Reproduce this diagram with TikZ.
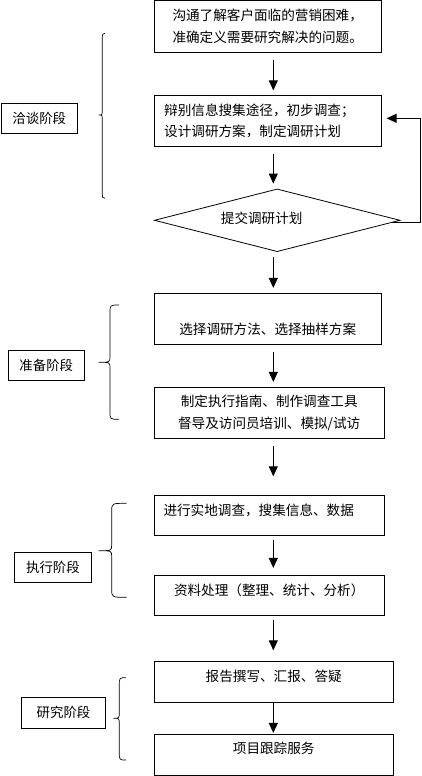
\documentclass[tikz,border=0pt]{standalone}
\usepackage{fontspec}
\setmainfont{Noto Sans CJK SC}
\usetikzlibrary{arrows.meta,shapes.geometric}
\newcommand{\vlift}[2]{\raisebox{#1}[\height][\depth]{#2}}
\newcommand{\phasebrace}[6]{\draw[bracestyle] (#1,#4) .. controls (#2,#4) .. (#2,{#4+8}) -- (#2,{#5-6}) .. controls (#2,#5) .. (#3,#5) .. controls (#2,#5) .. (#2,{#5+6}) -- (#2,{#6-8}) .. controls (#2,#6) .. (#1,#6);}
\begin{document}
\begin{tikzpicture}[x=1pt,y=-1pt,line width=0.8pt,
  box/.style={draw,rectangle,inner sep=0pt,align=center,font=\fontsize{13.6}{21.5}\selectfont},
  decision/.style={draw,diamond,aspect=3.9,inner sep=0pt,font=\fontsize{13.6}{21.5}\selectfont},
  lbl/.style={draw,rectangle,inner sep=0pt,minimum height=30pt,font=\fontsize{13.4}{16}\selectfont},
  arr/.style={-{Triangle[width=9pt,length=10pt]},line width=0.9pt},
  bracestyle/.style={line width=0.7pt}]
\useasboundingbox (0,0) rectangle (421,776);

% main flow
\node[box,minimum width=227pt,minimum height=51.5pt] (b1) at (267.7,26.5) {沟通了解客户面临的营销困难，\\准确定义需要研究解决的问题。};
\node[box,align=left,text width=207pt,inner xsep=10pt,minimum width=227pt,minimum height=50.7pt] (b2) at (267.7,120.7) {辩别信息搜集途径，初步调查；\\设计调研方案，制定调研计划};
\node[decision,minimum width=245.7pt,minimum height=62.7pt] (dia) at (277.2,220.3) {\vlift{2pt}{\hspace*{-31pt}提交调研计划}};
\node[box,minimum width=227pt,minimum height=51pt] (b3) at (267.7,318.8) {\vlift{-10.5pt}{选择调研方法、选择抽样方案}};
\node[box,minimum width=230pt,minimum height=51pt] (b4) at (269.2,412.8) {制定执行指南、制作调查工具\\督导及访问员培训、模拟/试访};
\node[box,align=left,text width=211.4pt,inner xsep=9.3pt,minimum width=230pt,minimum height=40pt] (b5) at (269.2,515) {\vlift{5pt}{进行实地调查，搜集信息、数据}};
\node[box,minimum width=230pt,minimum height=40.3pt] (b6) at (269.2,595.2) {\vlift{5.2pt}{资料处理（整理、统计、分析）}};
\node[box,minimum width=239pt,minimum height=40.6pt] (b7) at (273.7,682) {\vlift{5.3pt}{报告撰写、汇报、答疑}};
\node[box,minimum width=239pt,minimum height=40.7pt] (b8) at (273.7,754.7) {\vlift{6.4pt}{项目跟踪服务}};

% phase labels
\node[lbl,minimum width=76.7pt] (L1) at (39.3,118.3) {洽谈阶段};
\node[lbl,minimum width=76pt] (L2) at (46.3,365) {准备阶段};
\node[lbl,minimum width=77.4pt] (L3) at (53,567.3) {执行阶段};
\node[lbl,minimum width=84.4pt,minimum height=31pt] (L4) at (63.5,712.8) {研究阶段};

% arrows
\coordinate (ax) at (273.3,0);
\draw[arr,shorten <=7.7pt,shorten >=4.6pt] (b1.south -| ax) -- (b2.north -| ax);
\draw[arr,shorten <=8pt,shorten >=5pt] (b2.south -| ax) -- (dia.north -| ax);
\draw[arr,shorten <=5pt,shorten >=5pt] (dia.south -| ax) -- (b3.north -| ax);
\draw[arr,shorten <=7.4pt,shorten >=5pt] (b3.south -| ax) -- (b4.north -| ax);
\draw[arr,shorten <=7.4pt,shorten >=18.3pt] (b4.south -| ax) -- (b5.north -| ax);
\draw[arr,shorten <=5pt,shorten >=6.7pt] (b5.south -| ax) -- (b6.north -| ax);
\draw[arr,shorten <=4.7pt,shorten >=11pt] (b6.south -| ax) -- (b7.north -| ax);
\draw[arr,shorten >=1pt] (b7.south -| ax) -- (b8.north -| ax);

% feedback loop
\coordinate (fb) at (420,118.3);
\draw[arr,shorten >=5pt] ([xshift=-8.3pt,yshift=-2.2pt]dia.east) -| (fb) -- (fb -| b2.east);

% braces
\phasebrace{105}{102.3}{98.7}{33.3}{115}{198.3}
\phasebrace{119}{110}{98.7}{305}{362.3}{419.3}
\phasebrace{126.7}{111.7}{98.7}{503.3}{550.7}{597.3}
\phasebrace{126}{119.3}{113.3}{677.7}{718.3}{760}
\end{tikzpicture}
\end{document}
